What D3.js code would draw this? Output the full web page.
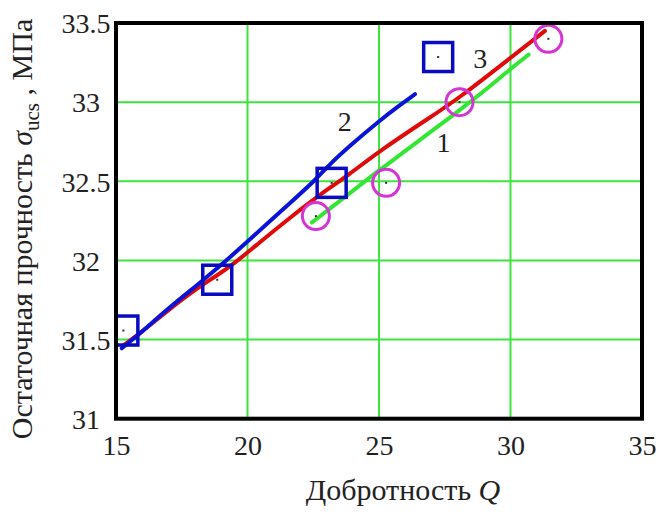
<!DOCTYPE html>
<html>
<head>
<meta charset="utf-8">
<script src="https://cdn.jsdelivr.net/npm/d3@7"></script>
<style>
  html, body { margin: 0; padding: 0; background: #fff; }
  svg { display: block; }
  svg text { font-family: "Liberation Serif", "Times New Roman", serif !important; fill: #222; }
</style>
</head>
<body>
<svg id="chart" width="658" height="524"></svg>
<script>
// Ticks
const xTicks = [15, 20, 25, 30, 35];
const yTicks = [31, 31.5, 32, 32.5, 33, 33.5];

// Curve 1 (green): [Q, sigma]
const curve1 = [
  [22.45, 32.24], [23.7, 32.40], [24.24, 32.47], [25.0, 32.57],
  [26.0, 32.69], [26.94, 32.81], [28.0, 32.94], [29.0, 33.07],
  [30.0, 33.21], [30.69, 33.30]
];
// Curve 2 (blue)
const curve2 = [
  [15.22, 31.445], [16.0, 31.55], [16.86, 31.68], [18.13, 31.85],
  [19.0, 31.97], [20.07, 32.13], [21.6, 32.36], [22.6, 32.51],
  [23.13, 32.61], [24.0, 32.74], [25.0, 32.88], [25.7, 32.97],
  [26.37, 33.05]
];
// Curve 3 (red)
const curve3 = [
  [15.25, 31.46], [16.0, 31.55], [16.86, 31.67], [18.13, 31.83],
  [18.8, 31.90], [19.56, 31.99], [20.0, 32.05], [21.6, 32.27],
  [23.2, 32.47], [23.77, 32.53], [25.0, 32.69], [27.0, 32.91],
  [28.0, 33.02], [30.0, 33.28], [31.31, 33.45]
];
// Measured points
const squares = [[15.28, 31.557], [18.85, 31.878], [23.2, 32.49], [27.25, 33.285]];
const circles = [[22.6, 32.28], [25.27, 32.49], [28.06, 33.0], [31.44, 33.40]];

// Curve labels
const curveLabels = [
  { text: "1", q: 27.45, s: 32.745 },
  { text: "2", q: 23.7, s: 32.88 },
  { text: "3", q: 28.85, s: 33.28 }
];

const svg = d3.select("#chart");
const x = d3.scaleLinear().domain([15, 35]).range([116, 642]);
const y = d3.scaleLinear().domain([31, 33.5]).range([418.7, 23]);

const gridColor = "#3ee33e";

// clip for plot area
svg.append("defs").append("clipPath").attr("id", "plotClip")
  .append("rect")
  .attr("x", x(15)).attr("y", y(33.5))
  .attr("width", x(35) - x(15)).attr("height", y(31) - y(33.5));

// Grid
const grid = svg.append("g");
grid.selectAll("line.vx").data(xTicks.slice(1, -1)).join("line")
  .attr("x1", d => x(d)).attr("x2", d => x(d))
  .attr("y1", y(31)).attr("y2", y(33.5))
  .attr("stroke", gridColor).attr("stroke-width", 2);
grid.selectAll("line.hy").data(yTicks.slice(1, -1)).join("line")
  .attr("y1", d => y(d)).attr("y2", d => y(d))
  .attr("x1", x(15)).attr("x2", x(35))
  .attr("stroke", gridColor).attr("stroke-width", 2);

const plot = svg.append("g").attr("clip-path", "url(#plotClip)");

const line = d3.line().x(d => x(d[0])).y(d => y(d[1])).curve(d3.curveBasis);

plot.append("path").datum(curve1).attr("d", line)
  .attr("fill", "none").attr("stroke", "#33e633").attr("stroke-width", 4)
  .attr("stroke-linecap", "round");
plot.append("path").datum(curve3).attr("d", line)
  .attr("fill", "none").attr("stroke", "#e00a0a").attr("stroke-width", 4)
  .attr("stroke-linecap", "round");
plot.append("path").datum(curve2).attr("d", line)
  .attr("fill", "none").attr("stroke", "#0a14d8").attr("stroke-width", 4)
  .attr("stroke-linecap", "round");

// Square markers
const sq = 29;
plot.selectAll("rect.sq").data(squares).join("rect")
  .attr("x", d => x(d[0]) - sq / 2).attr("y", d => y(d[1]) - sq / 2)
  .attr("width", sq).attr("height", sq)
  .attr("fill", "none").attr("stroke", "#0a0ac0").attr("stroke-width", 3.5);

// Circle markers
plot.selectAll("circle.ci").data(circles).join("circle")
  .attr("cx", d => x(d[0])).attr("cy", d => y(d[1])).attr("r", 13.5)
  .attr("fill", "none").attr("stroke", "#d435d4").attr("stroke-width", 3);

// Center dots
plot.selectAll("rect.dot").data(squares.concat(circles)).join("rect")
  .attr("x", d => x(d[0]) - 1).attr("y", d => y(d[1]) - 1)
  .attr("width", 2).attr("height", 2).attr("fill", "#333");

// Frame
svg.append("rect")
  .attr("x", x(15)).attr("y", y(33.5))
  .attr("width", x(35) - x(15)).attr("height", y(31) - y(33.5))
  .attr("fill", "none").attr("stroke", "#000").attr("stroke-width", 4);

// Axes (labels only)
const xAxis = svg.append("g").attr("transform", `translate(0,445)`)
  .call(d3.axisBottom(x).tickValues(xTicks).tickSize(0).tickFormat(d3.format("d")));
xAxis.select(".domain").remove();
xAxis.attr("font-family", null).attr("font-size", null);
xAxis.selectAll("text").attr("font-size", 28).attr("fill", "#222")
  .attr("dy", "0.35em").attr("y", 0);

const yAxis = svg.append("g").attr("transform", `translate(86,0)`)
  .call(d3.axisLeft(y).tickValues(yTicks).tickSize(0).tickFormat(d => String(d)));
yAxis.select(".domain").remove();
yAxis.attr("font-family", null).attr("font-size", null);
yAxis.selectAll("text").attr("font-size", 28).attr("fill", "#222")
  .attr("text-anchor", "middle").attr("x", 0).attr("dy", "0.35em");

// Curve labels
svg.selectAll("text.cl").data(curveLabels).join("text")
  .attr("x", d => x(d.q)).attr("y", d => y(d.s))
  .attr("text-anchor", "middle").attr("dy", "0.35em")
  .attr("font-size", 28).text(d => d.text);

// X axis title
const xt = svg.append("text").attr("x", 403).attr("y", 500)
  .attr("text-anchor", "middle").attr("font-size", 30);
xt.append("tspan").text("Добротность ");
xt.append("tspan").attr("font-style", "italic").text("Q");

// Y axis title
const yt = svg.append("text")
  .attr("transform", "translate(32,229) rotate(-90)")
  .attr("text-anchor", "middle").attr("font-size", 30);
yt.append("tspan").text("Остаточная прочность ");
yt.append("tspan").attr("font-style", "italic").text("σ");
yt.append("tspan").attr("font-size", 21).attr("dy", 7).text("ucs");
yt.append("tspan").attr("dy", -7).text(" , МПа");
</script>
</body>
</html>
